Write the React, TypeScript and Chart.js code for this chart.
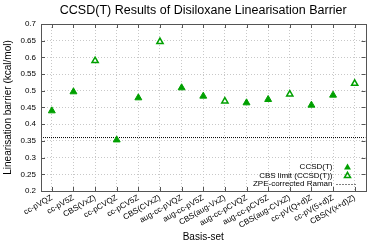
import React, { useEffect, useRef } from 'react';
import { Chart, registerables } from 'chart.js';

Chart.register(...registerables);

const categories = [
  'cc-pVQZ', 'cc-pV5Z', 'CBS(VxZ)', 'cc-pCVQZ', 'cc-pCV5Z', 'CBS(CVxZ)',
  'aug-cc-pVQZ', 'aug-cc-pV5Z', 'CBS(aug-VxZ)', 'aug-cc-pCVQZ', 'aug-cc-pCV5Z',
  'CBS(aug-CVxZ)', 'cc-pV(Q+d)Z', 'cc-pV(5+d)Z', 'CBS(V(x+d)Z)',
];
const ccsdtValues: (number | null)[] = [
  0.44, 0.497, null, 0.353, 0.479, null, 0.509, 0.484, null, 0.464, 0.474, null, 0.457, 0.487, null,
];
const cbsValues: (number | null)[] = [
  null, null, 0.59, null, null, 0.647, null, null, 0.469, null, null, 0.49, null, null, 0.522,
];
const zpeRaman = 0.36;
const yTicks = [0.2, 0.25, 0.3, 0.35, 0.4, 0.45, 0.5, 0.55, 0.6, 0.65, 0.7];

const GREEN = '#00a000';
const FONT = "'Liberation Sans', Arial, sans-serif";

function toPoints(vals: (number | null)[]) {
  const out: { x: number; y: number }[] = [];
  vals.forEach((v, i) => {
    if (v !== null) out.push({ x: i + 1, y: v });
  });
  return out;
}

function tri(ctx: CanvasRenderingContext2D, x: number, y: number, r: number) {
  let rad = 0;
  ctx.beginPath();
  ctx.moveTo(x + Math.sin(rad) * r, y - Math.cos(rad) * r);
  rad += (2 * Math.PI) / 3;
  ctx.lineTo(x + Math.sin(rad) * r, y - Math.cos(rad) * r);
  rad += (2 * Math.PI) / 3;
  ctx.lineTo(x + Math.sin(rad) * r, y - Math.cos(rad) * r);
  ctx.closePath();
}

const framePlugin = {
  id: 'frame',
  afterDatasetsDraw(chart: any) {
    const { ctx, chartArea: a } = chart;
    const xs = chart.scales.x;
    const ys = chart.scales.y;
    ctx.save();
    ctx.strokeStyle = '#555';
    ctx.lineWidth = 1;
    ctx.setLineDash([]);
    ctx.strokeRect(Math.round(a.left) + 0.5, Math.round(a.top) + 0.5, Math.round(a.right - a.left), Math.round(a.bottom - a.top));
    ctx.beginPath();
    xs.ticks.forEach((t: any) => {
      const px = Math.round(xs.getPixelForValue(t.value)) + 0.5;
      ctx.moveTo(px, a.top);
      ctx.lineTo(px, a.top + 4);
      ctx.moveTo(px, a.bottom);
      ctx.lineTo(px, a.bottom - 4);
    });
    ys.ticks.forEach((t: any) => {
      const py = Math.round(ys.getPixelForValue(t.value)) + 0.5;
      ctx.moveTo(a.left, py);
      ctx.lineTo(a.left + 4, py);
      ctx.moveTo(a.right, py);
      ctx.lineTo(a.right - 4, py);
    });
    ctx.stroke();
    ctx.restore();
  },
};

const legendPlugin = {
  id: 'gpLegend',
  afterDraw(chart: any) {
    const { ctx, chartArea: a } = chart;
    const ds = chart.data.datasets;
    ctx.save();
    ctx.font = `8px ${FONT}`;
    ctx.fillStyle = '#000';
    ctx.textAlign = 'right';
    ctx.textBaseline = 'middle';
    const tx = a.right - 33;
    const sx = a.right - 18;
    ds.forEach((d: any, i: number) => {
      const y = a.bottom - 24 + i * 8.3;
      ctx.fillText(d.label, tx, y);
      if (i === 0) {
        tri(ctx, sx, y + 0.5, 4);
        ctx.fillStyle = GREEN;
        ctx.fill();
        ctx.fillStyle = '#000';
      } else if (i === 1) {
        tri(ctx, sx, y + 0.5, 3.5);
        ctx.strokeStyle = GREEN;
        ctx.lineWidth = 1.5;
        ctx.stroke();
      } else {
        ctx.beginPath();
        ctx.strokeStyle = '#000';
        ctx.lineWidth = 1;
        ctx.setLineDash([1, 2]);
        ctx.moveTo(a.right - 29, Math.round(y) + 0.5);
        ctx.lineTo(a.right - 8, Math.round(y) + 0.5);
        ctx.stroke();
      }
    });
    ctx.restore();
  },
};

export default function App() {
  const ref = useRef<HTMLCanvasElement | null>(null);
  useEffect(() => {
    document.body.style.margin = '0';
    if (!ref.current) return;
    const chart = new Chart(ref.current, {
      type: 'scatter',
      data: {
        datasets: [
          {
            label: 'CCSD(T)',
            data: toPoints(ccsdtValues),
            pointStyle: 'triangle',
            pointRadius: 4,
            backgroundColor: GREEN,
            borderColor: GREEN,
            borderWidth: 1,
          },
          {
            label: 'CBS limit (CCSD(T))',
            data: toPoints(cbsValues),
            pointStyle: 'triangle',
            pointRadius: 3.6,
            backgroundColor: 'rgba(255,255,255,1)',
            borderColor: GREEN,
            borderWidth: 1.5,
          },
          {
            label: 'ZPE-corrected Raman',
            type: 'line',
            data: [
              { x: 0.5, y: zpeRaman },
              { x: categories.length + 0.5, y: zpeRaman },
            ],
            borderColor: '#000',
            borderWidth: 1,
            borderDash: [1, 1],
            pointRadius: 0,
            fill: false,
          } as any,
        ],
      },
      options: {
        animation: false,
        responsive: false,
        layout: { padding: { right: 4, top: 0, bottom: 0, left: 0 } },
        plugins: {
          legend: { display: false },
          tooltip: { enabled: false },
          title: {
            display: true,
            text: 'CCSD(T) Results of Disiloxane Linearisation Barrier',
            fullSize: false,
            color: '#000',
            font: { family: FONT, size: 12.5, weight: 'normal' },
            padding: { top: 3, bottom: 6 },
          },
        },
        scales: {
          x: {
            type: 'linear',
            min: 0.5,
            max: categories.length + 0.5,
            afterBuildTicks: (axis: any) => {
              axis.ticks = categories.map((_, i) => ({ value: i + 1 }));
            },
            afterFit: (axis: any) => {
              axis.height = 54;
            },
            ticks: {
              autoSkip: false,
              minRotation: 30,
              maxRotation: 30,
              padding: 2,
              color: '#000',
              font: { family: FONT, size: 8 },
              callback: (v: any) => categories[Math.round(v) - 1] ?? '',
            },
            grid: { color: '#c8c8c8', lineWidth: 1, drawTicks: false },
            border: { display: false, dash: [1, 2] },
            title: {
              display: true,
              text: 'Basis-set',
              color: '#000',
              font: { family: FONT, size: 10 },
              padding: { top: 0, bottom: 2 },
            },
          },
          y: {
            type: 'linear',
            min: 0.2,
            max: 0.7,
            afterBuildTicks: (axis: any) => {
              axis.ticks = yTicks.map((v) => ({ value: v }));
            },
            afterFit: (axis: any) => {
              axis.width = 41;
            },
            ticks: {
              padding: 5,
              color: '#000',
              font: { family: FONT, size: 8 },
              callback: (v: any) => String(Number(v.toFixed(2))),
            },
            grid: { color: '#c8c8c8', lineWidth: 1, drawTicks: false },
            border: { display: false, dash: [1, 2] },
            title: {
              display: true,
              text: 'Linearisation barrier (kcal/mol)',
              color: '#000',
              font: { family: FONT, size: 10 },
              padding: { top: 2, bottom: 0 },
            },
          },
        },
      },
      plugins: [framePlugin, legendPlugin],
    });
    return () => chart.destroy();
  }, []);
  return <canvas ref={ref} width={371} height={245} style={{ display: 'block' }} />;
}
